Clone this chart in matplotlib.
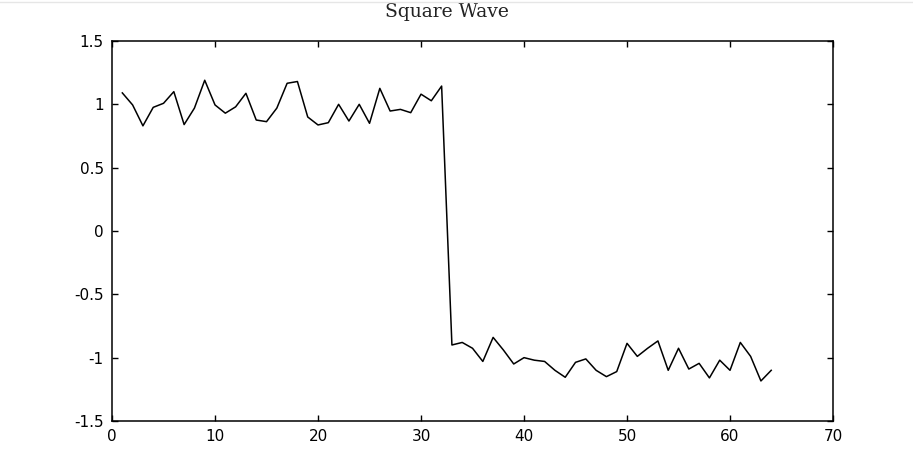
import numpy as np
import matplotlib.pyplot as plt
from matplotlib.lines import Line2D

# samples of a noisy square wave (n = 1..64)
n = np.arange(1, 65)
y = np.array([
    1.09, 0.995, 0.83, 0.976, 1.008, 1.10, 0.84, 0.97, 1.19, 0.995,
    0.93, 0.98, 1.087, 0.876, 0.863, 0.97, 1.166, 1.18, 0.90, 0.837,
    0.855, 1.00, 0.868, 1.00, 0.85, 1.126, 0.947, 0.96, 0.934, 1.08,
    1.028, 1.144,
    -0.90, -0.88, -0.926, -1.03, -0.84, -0.94, -1.05, -1.00, -1.02, -1.03,
    -1.10, -1.155, -1.037, -1.01, -1.10, -1.15, -1.11, -0.887, -0.99, -0.926,
    -0.868, -1.10, -0.926, -1.09, -1.045, -1.16, -1.02, -1.10, -0.88, -0.99,
    -1.184, -1.10,
])

xticks = np.arange(0, 71, 10)
yticks = [-1.5, -1, -0.5, 0, 0.5, 1, 1.5]
ytick_labels = ['-1.5', '-1', '-0.5', '0', '0.5', '1', '1.5']

plt.rcParams['font.family'] = ['DejaVu Sans']

fig = plt.figure(figsize=(9.13, 4.71), dpi=100)
ax = fig.add_axes([0.1227, 0.1062, 0.7897, 0.8068])

ax.plot(n, y, color='black', linewidth=1.1)

ax.set_xlim(0, 70)
ax.set_ylim(-1.5, 1.5)
ax.set_xticks(xticks)
ax.set_xticklabels([str(t) for t in xticks])
ax.set_yticks(yticks)
ax.set_yticklabels(ytick_labels)
ax.tick_params(direction='in', top=True, right=True, length=4, width=1,
               labelsize=11, colors='black')
ax.tick_params(axis='x', pad=6)
ax.tick_params(axis='y', pad=6)
for s in ax.spines.values():
    s.set_linewidth(1.1)

ax.set_title('Square Wave', fontfamily='DejaVu Serif', fontsize=13.5,
             x=0.465, pad=17, color='#222222')

# thin gray rule along the top edge of the figure
fig.add_artist(Line2D([0, 1], [0.996, 0.996], transform=fig.transFigure,
                      color='#e6e6e6', linewidth=1))

fig.savefig('out.png', dpi=100)
